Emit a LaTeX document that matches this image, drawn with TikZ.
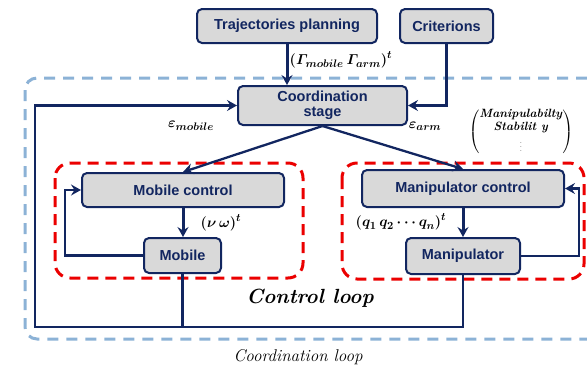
\documentclass[tikz,border=0pt]{standalone}
\usepackage{amsmath,amssymb}
\usepackage{fontspec}
\newfontfamily\arialfont{Liberation Sans}
\usetikzlibrary{arrows.meta}
\definecolor{navy}{RGB}{18,38,96}
\definecolor{boxgray}{RGB}{217,217,217}
\definecolor{loopblue}{RGB}{140,178,214}
\definecolor{loopred}{RGB}{235,0,0}
\tikzset{
  block/.style={draw=navy,fill=boxgray,line width=2pt,rounded corners=5pt,inner sep=0pt,align=center,
    text=navy,font=\arialfont\bfseries\fontsize{14.5}{15.5}\selectfont},
  link/.style={draw=navy,line width=2.3pt},
  redloop/.style={draw=loopred,line width=3pt,rounded corners=15pt,dash pattern=on 11pt off 7pt},
  blueloop/.style={draw=loopblue,line width=3pt,rounded corners=12pt,dash pattern=on 11pt off 8pt},
  lbl/.style={inner sep=0pt,font=\fontsize{15}{17}\selectfont}
}
\begin{document}
\begin{tikzpicture}[line cap=butt,line join=miter,>={Stealth[length=10pt,width=11pt,inset=3.5pt]},x=1pt,y=-1pt]
	\useasboundingbox (0,0) rectangle (587,368);
	\clip (0,0) rectangle (587,368);
	% loops
	\draw [blueloop] (25,78) rectangle (610,339);
	\draw [redloop] (55,163) rectangle (303,278);
	\draw [redloop] (342,163) rectangle (584,279);
	% blocks
	\node [block,minimum width=180pt,minimum height=34pt] (traj) at (287,26) {Trajectories planning};
	\node [block,minimum width=93pt,minimum height=34pt] (crit) at (446.5,26) {Criterions};
	\node [block,minimum width=169pt,minimum height=39pt] (coord) at (322.5,105.5) {Coordination\\stage};
	\node [block,minimum width=202pt,minimum height=34pt] (mobctrl) at (183,190) {Mobile control};
	\node [block,minimum width=77pt,minimum height=35pt] (mob) at (182.5,255.5) {Mobile};
	\node [block,minimum width=202pt,minimum height=37pt] (manctrl) at (463,188.5) {Manipulator control};
	\node [block,minimum width=114pt,minimum height=36pt] (manip) at (463,256) {Manipulator};
	\coordinate (lc) at (35,327);
	% connectors
	\draw [link,line width=3pt,->] (traj.south) -- (traj.south |- coord.north);
	\draw [link,->] (crit.south) |- (coord.east);
	\draw [link,->] (manip.south) -- (manip.south |- lc) -- (lc) |- (coord.west);
	\draw [link] (mob.south) -- (mob.south |- lc);
	\draw [link,->] (coord.south) -- (mobctrl.north);
	\draw [link,->] (coord.south) -- (manctrl.north);
	\draw [link,line width=3pt,->] (mobctrl.south) -- (mobctrl.south |- mob.north);
	\draw [link,line width=3pt,->] (manctrl.south) -- (manctrl.south |- manip.north);
	\draw [link,->] (mob.west) -- ++(-78,0) |- (mobctrl.west);
	\draw [link,->] (manip.east) -- ++(58,0) |- (manctrl.east);
	% labels
	\node [lbl] (gam) at (341,60) {$\boldsymbol{\left(\varGamma_{mobile}\,\varGamma_{arm}\right)^{t}}$};
	\node [lbl] (emob) at (191,126) {$\boldsymbol{\varepsilon_{mobile}}$};
	\node [lbl] (earm) at (425,126) {$\boldsymbol{\varepsilon_{arm}}$};
	\node [lbl,font=\fontsize{12}{13}\selectfont] (crv) at (521,132)
		{$\left(\begin{matrix}\textbf{\textit{Manipulabilty}}\\ \textbf{\textit{Stabilit y}}\\[2pt] \text{\fontsize{7}{7}\selectfont$\vdots$}\end{matrix}\right)$};
	\node [lbl] (vw) at (221,223) {$\boldsymbol{\left(\nu\,\omega\right)^{t}}$};
	\node [lbl] (qs) at (401,222) {$\boldsymbol{\left(q_{1}\,q_{2}\cdots q_{n}\right)^{t}}$};
	\node [inner sep=0pt,font=\bfseries\itshape\fontsize{20.5}{24}\selectfont] (ctl) at (310,298) {Control loop};
	\node [inner sep=0pt,font=\itshape\fontsize{17}{20}\selectfont] (crl) at (298,357) {Coordination loop};
\end{tikzpicture}
\end{document}
